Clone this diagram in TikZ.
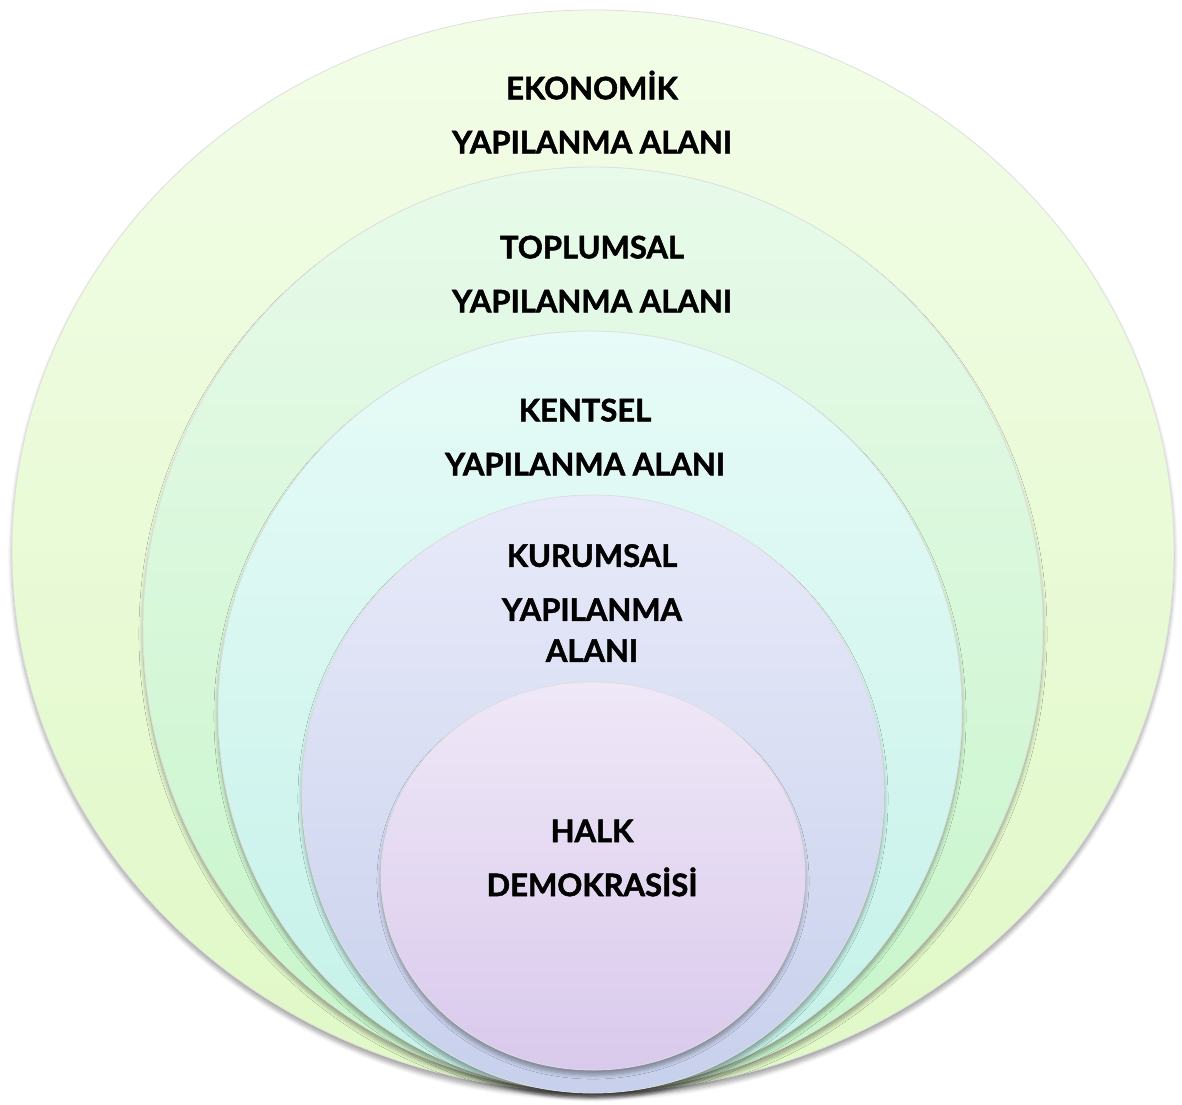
\documentclass[tikz,border=0pt]{standalone}
\usepackage{fontspec}
\setmainfont{Lato}[BoldFeatures={FakeBold=1.6}]
\usetikzlibrary{shapes.geometric,shadows.blur,positioning}

\definecolor{ekoTop}{HTML}{F2FDE7}
\definecolor{ekoBot}{HTML}{E0F8C6}
\definecolor{topTop}{HTML}{E8FAEA}
\definecolor{topBot}{HTML}{C6F5C9}
\definecolor{kenTop}{HTML}{E7FBF7}
\definecolor{kenBot}{HTML}{C3F1E8}
\definecolor{kurTop}{HTML}{E8EAF9}
\definecolor{kurBot}{HTML}{C7D0EC}
\definecolor{halTop}{HTML}{EFE8F7}
\definecolor{halBot}{HTML}{D9C9EC}

\begin{document}
\begin{tikzpicture}[
    x=0.5pt, y=0.5pt,
    alan/.style={ellipse, inner sep=0pt, draw=black!13, line width=0.4pt,
        blur shadow={shadow xshift=0pt, shadow yshift=-2.5pt, shadow blur steps=6, shadow opacity=35}},
    lbl/.style={align=center, inner sep=0pt, font=\fontsize{15.5}{19}\selectfont\bfseries}
]
    \useasboundingbox (0,0) rectangle (1182,-1104);

    % nested areas, all touching at the bottom
    \node[alan, top color=ekoTop, bottom color=ekoBot, minimum width=581pt, minimum height=541pt] (eko) at (593,-551) {};
    \node[alan, top color=topTop, bottom color=topBot, minimum width=450pt, minimum height=462pt] (top) at (593,-629) {};
    \node[alan, top color=kenTop, bottom color=kenBot, minimum width=372pt, minimum height=380pt] (ken) at (590,-711) {};
    \node[alan, top color=kurTop, bottom color=kurBot, minimum width=291pt, minimum height=299pt] (kur) at (593,-794) {};
    \node[alan, top color=halTop, bottom color=halBot, minimum width=212pt, minimum height=194pt] (hal) at (593,-876) {};

    % labels
    \node[lbl] (ekolbl) at (592,-112) {EKONOMİK\\[8pt]YAPILANMA ALANI};
    \node[lbl] (toplbl) at (592,-274) {TOPLUMSAL\\[8pt]YAPILANMA ALANI};
    \node[lbl] (kenlbl) at (585,-437) {KENTSEL\\[8pt]YAPILANMA ALANI};
    \node[lbl] (kurlbl) at (592,-603) {KURUMSAL\\[8pt]YAPILANMA\\[1.5pt]ALANI};
    \node[lbl] (hallbl) at (592,-858) {HALK\\[8pt]DEMOKRASİSİ};
\end{tikzpicture}
\end{document}
